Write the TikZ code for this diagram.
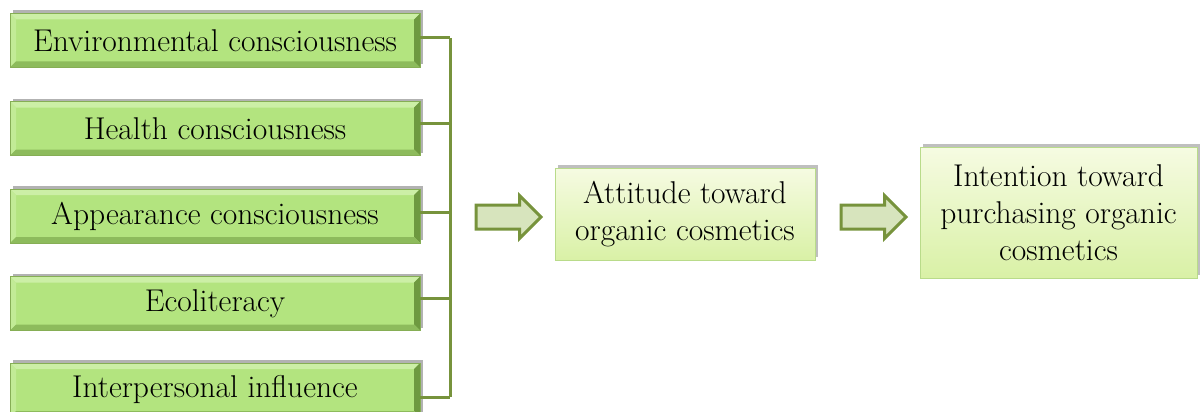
\documentclass[tikz,border=0pt]{standalone}
\usepackage{fontspec}
\usetikzlibrary{shapes.arrows,shadows}
\definecolor{factorgreen}{HTML}{B3E47F}
\definecolor{factorlight}{HTML}{CCEFA6}
\definecolor{factordark}{HTML}{6E9940}
\definecolor{factorline}{HTML}{86AE55}
\definecolor{resulttop}{HTML}{F6FBE2}
\definecolor{resultbottom}{HTML}{D9F1A6}
\definecolor{resultline}{HTML}{B9DB8A}
\definecolor{linkgreen}{HTML}{77933C}
\definecolor{arrowfill}{HTML}{D7E4BD}
\tikzset{
  factor/.style={draw=factorline, line width=0.8pt, fill=factorgreen,
    minimum width=410pt, minimum height=54pt, inner sep=0pt,
    font=\fontsize{31.5}{36}\selectfont,
    drop shadow={shadow xshift=3pt, shadow yshift=3pt, fill=black, opacity=0.3},
    path picture={
      \coordinate (nw) at (path picture bounding box.north west);
      \coordinate (ne) at (path picture bounding box.north east);
      \coordinate (sw) at (path picture bounding box.south west);
      \coordinate (se) at (path picture bounding box.south east);
      \fill[factorlight] (nw) -- (ne) -- ([shift={(-6pt,-6pt)}]ne) -- ([shift={(6pt,-6pt)}]nw) -- cycle;
      \fill[factorlight!60!factorgreen] (nw) -- (sw) -- ([shift={(6pt,6pt)}]sw) -- ([shift={(6pt,-6pt)}]nw) -- cycle;
      \fill[factordark] (ne) -- (se) -- ([shift={(-6pt,6pt)}]se) -- ([shift={(-6pt,-6pt)}]ne) -- cycle;
      \fill[factordark!55!factorgreen] (sw) -- (se) -- ([shift={(-6pt,6pt)}]se) -- ([shift={(6pt,6pt)}]sw) -- cycle;
    }},
  result/.style={draw=resultline, line width=0.8pt, top color=resulttop, bottom color=resultbottom,
    inner sep=0pt, align=center, font=\fontsize{31.5}{37}\selectfont,
    drop shadow={shadow xshift=3pt, shadow yshift=3pt, fill=black, opacity=0.25}},
  blockarrow/.style={single arrow, draw=linkgreen, line width=3pt, fill=arrowfill,
    inner xsep=0pt, inner ysep=10.5pt, minimum width=40pt, minimum height=65pt,
    single arrow head extend=9.5pt},
  link/.style={draw=linkgreen, line width=3pt}
}
\begin{document}
\begin{tikzpicture}[x=1pt,y=-1pt]
  \useasboundingbox (0,0) rectangle (1200,412);
  \node[factor] (env) at (215,40.5) {Environmental consciousness};
  \node[factor] (hlth) at (215,128.5) {Health consciousness};
  \node[factor] (appr) at (215,216) {Appearance consciousness};
  \node[factor] (eco) at (215,303.5) {Ecoliteracy};
  \node[factor] (infl) at (215,390) {Interpersonal influence};
  \coordinate (bus) at (450,0);
  \foreach \f/\s in {env/2.5,hlth/5.5,appr/4,eco/5.5,infl/-7}
    \draw[link] ([yshift=\s pt]\f.east) -- ([yshift=\s pt]\f.east -| bus);
  \draw[link] ([yshift=2.5pt]env.east -| bus) -- ([yshift=-7pt]infl.east -| bus);
  \node[blockarrow] (arrA) at (502.5,217) {};
  \node[result, minimum width=260pt, minimum height=92pt] (att) at (685,214) {Attitude toward\\organic cosmetics};
  \node[blockarrow] (arrB) at (867.5,217) {};
  \node[result, minimum width=277pt, minimum height=131pt] (intn) at (1058.5,212.5) {Intention toward\\purchasing organic\\cosmetics};
\end{tikzpicture}
\end{document}
